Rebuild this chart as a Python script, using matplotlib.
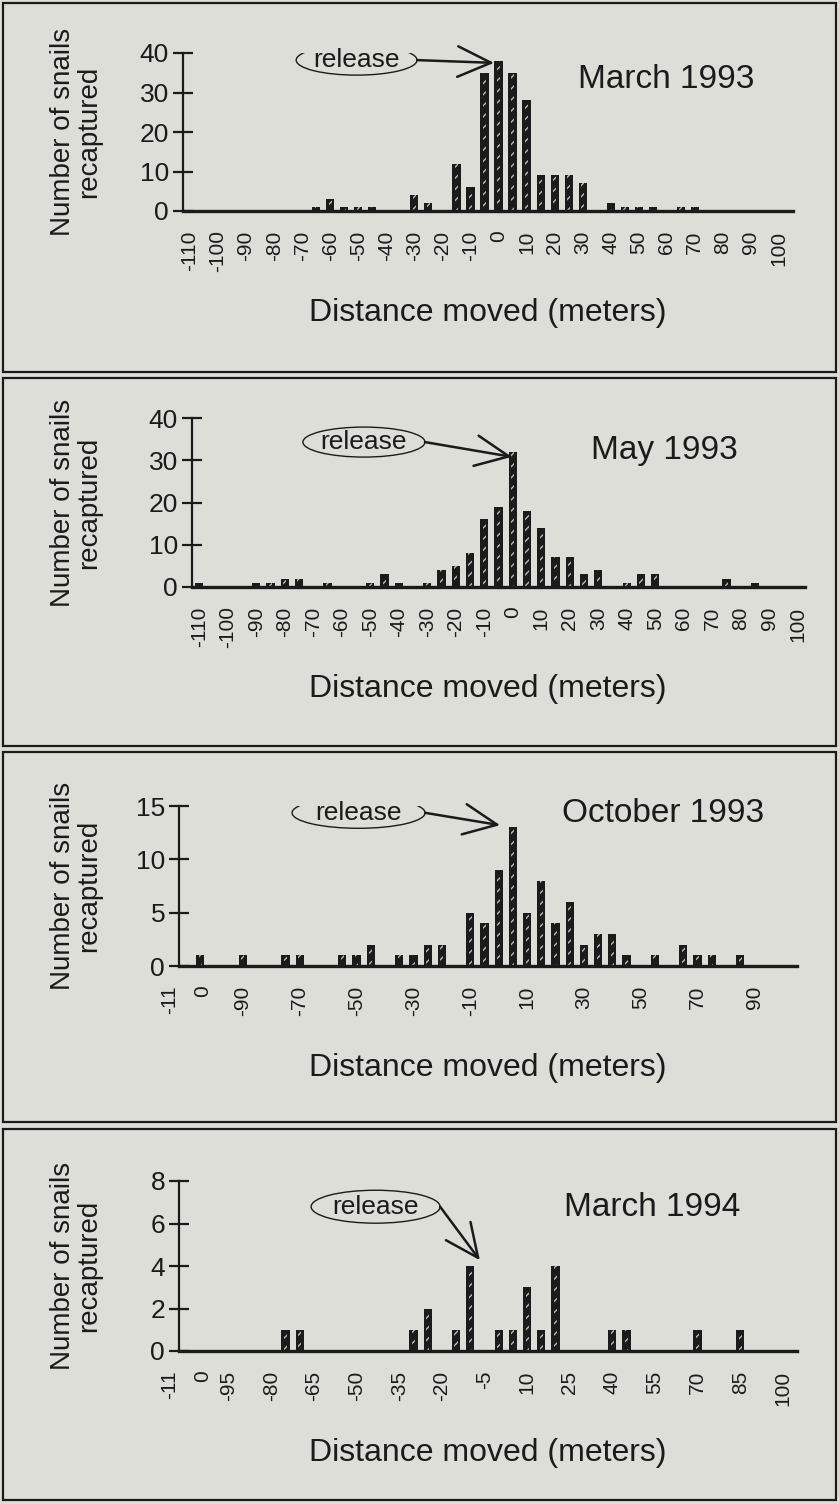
import matplotlib
matplotlib.use('Agg')
import matplotlib.pyplot as plt
from matplotlib.patches import Ellipse, Rectangle

plt.rcParams['font.family'] = ['Liberation Sans', 'DejaVu Sans']
plt.rcParams['hatch.linewidth'] = 1.0

# distance moved (m, 5 m classes) and number of snails recaptured
mar93_dist = [-65, -60, -55, -50, -45, -30, -25, -15, -10, -5, 0, 5, 10, 15, 20, 25, 30, 40, 45, 50, 55, 65, 70]
mar93_count = [1, 3, 1, 1, 1, 4, 2, 12, 6, 35, 38, 35, 28, 9, 9, 9, 7, 2, 1, 1, 1, 1, 1]

may93_dist = [-110, -90, -85, -80, -75, -65, -50, -45, -40, -30, -25, -20, -15, -10, -5, 0, 5, 10, 15, 20, 25, 30, 40, 45, 50, 75, 85]
may93_count = [1, 1, 1, 2, 2, 1, 1, 3, 1, 1, 4, 5, 8, 16, 19, 32, 18, 14, 7, 7, 3, 4, 1, 3, 3, 2, 1]

oct93_dist = [-105, -90, -75, -70, -55, -50, -45, -35, -30, -25, -20, -10, -5, 0, 5, 10, 15, 20, 25, 30, 35, 40, 45, 55, 65, 70, 75, 85]
oct93_count = [1, 1, 1, 1, 1, 1, 2, 1, 1, 2, 2, 5, 4, 9, 13, 5, 8, 4, 6, 2, 3, 3, 1, 1, 2, 1, 1, 1]

mar94_dist = [-75, -70, -30, -25, -15, -10, 0, 5, 10, 15, 20, 40, 45, 70, 85]
mar94_count = [1, 1, 1, 2, 1, 4, 1, 1, 3, 1, 4, 1, 1, 1, 1]

# x tick positions / labels for each survey
ticks_10 = [-110, -100, -90, -80, -70, -60, -50, -40, -30, -20, -10, 0, 10, 20, 30, 40, 50, 60, 70, 80, 90, 100]
labels_10 = ['-110', '-100', '-90', '-80', '-70', '-60', '-50', '-40', '-30', '-20', '-10', '0',
             '10', '20', '30', '40', '50', '60', '70', '80', '90', '100']
ticks_20 = [-110, -90, -70, -50, -30, -10, 10, 30, 50, 70, 90]
labels_20 = ['-11\n0', '-90', '-70', '-50', '-30', '-10', '10', '30', '50', '70', '90']
ticks_15 = [-110, -95, -80, -65, -50, -35, -20, -5, 10, 25, 40, 55, 70, 85, 100]
labels_15 = ['-11\n0', '-95', '-80', '-65', '-50', '-35', '-20', '-5', '10', '25', '40', '55', '70', '85', '100']

W, H = 839, 1504
BG = '#dcded7'
INK = '#1b1b1b'

fig = plt.figure(figsize=(W / 100, H / 100), dpi=100, facecolor=BG)


def px_rect(x0, y0, x1, y1):
    # pixel box (top-left origin) -> figure fraction rect
    return [x0 / W, 1 - y1 / H, (x1 - x0) / W, (y1 - y0) / H]


panels = [
    dict(dist=mar93_dist, count=mar93_count, box=(183, 53, 793, 211), frame=(3, 3, 836, 372),
         xlim=(-112.5, 105), ymax=40, yticks=[0, 10, 20, 30, 40], ticks=ticks_10, labels=labels_10,
         title='March 1993', title_xy=(59.7, 33.2),
         ell=(-50.6, 38.2, 43.1, 7.6), tip=(-1.6, 37.5)),
    dict(dist=may93_dist, count=may93_count, box=(192, 418, 805, 587), frame=(3, 378, 836, 746),
         xlim=(-112.5, 102.5), ymax=40, yticks=[0, 10, 20, 30, 40], ticks=ticks_10, labels=labels_10,
         title='May 1993', title_xy=(53.1, 32.4),
         ell=(-52.2, 34.3, 42.8, 7.1), tip=(-0.3, 30.8)),
    dict(dist=oct93_dist, count=oct93_count, box=(179, 806, 797, 966), frame=(3, 752, 836, 1122),
         xlim=(-112.5, 105), ymax=15, yticks=[0, 5, 10, 15], ticks=ticks_20, labels=labels_20,
         title='October 1993', title_xy=(57.8, 14.3),
         ell=(-49.3, 14.36, 46.8, 2.9), tip=(0.5, 13.2)),
    dict(dist=mar94_dist, count=mar94_count, box=(179, 1181, 797, 1351), frame=(3, 1129, 836, 1500),
         xlim=(-112.5, 105), ymax=8, yticks=[0, 2, 4, 6, 8], ticks=ticks_15, labels=labels_15,
         title='March 1994', title_xy=(54.0, 6.76),
         ell=(-43.3, 6.79, 45.4, 1.55), tip=(-6.6, 4.27)),
]

for p in panels:
    x0, y0, x1, y1 = p['box']
    ax = fig.add_axes(px_rect(x0, y0, x1, y1))
    ax.set_facecolor('none')

    # dark bars with a light dashed core
    ax.bar(p['dist'], p['count'], width=2.9, color=INK, linewidth=0)
    ax.bar(p['dist'], p['count'], width=1.1, fill=False, hatch='///', edgecolor='#b9bbb4', linewidth=0)

    ax.set_xlim(*p['xlim'])
    ax.set_ylim(0, p['ymax'])
    ax.set_yticks(p['yticks'])
    ax.set_xticks(p['ticks'])
    ax.set_xticklabels(p['labels'])

    for side in ('top', 'right'):
        ax.spines[side].set_visible(False)
    ax.spines['left'].set_linewidth(1.6)
    ax.spines['bottom'].set_linewidth(2.4)
    ax.spines['left'].set_color(INK)
    ax.spines['bottom'].set_color(INK)

    ax.tick_params(axis='y', direction='inout', length=14, width=1.6, color=INK,
                   labelsize=19, pad=3, labelcolor=INK)
    ax.tick_params(axis='x', length=0, labelsize=15, pad=14, labelrotation=90, labelcolor=INK)
    for lab in ax.get_xticklabels():
        if '\n' in lab.get_text():
            lab.set_linespacing(1.9)
            lab.set_multialignment('right')

    hpx = y1 - y0
    wpx = x1 - x0
    ax.set_xlabel('Distance moved (meters)', fontsize=23, color=INK)
    ax.xaxis.label.set_va('center')
    ax.xaxis.set_label_coords((488 - x0) / wpx, -102 / hpx)
    ax.set_ylabel('Number of snails\nrecaptured', fontsize=20, color=INK, linespacing=1.05)
    ax.yaxis.label.set_va('center')
    ax.yaxis.set_label_coords((76 - x0) / wpx, 0.5)

    ax.text(p['title_xy'][0], p['title_xy'][1], p['title'], fontsize=24, color=INK,
            ha='center', va='center')

    cx, cy, ew, eh = p['ell']
    ax.add_patch(Ellipse((cx, cy), ew, eh, fill=False, edgecolor=INK, linewidth=1.0))
    ax.text(cx, cy, 'release', fontsize=19, color=INK, ha='center', va='center')
    ax.annotate('', xy=p['tip'], xytext=(cx + ew / 2, cy),
                arrowprops=dict(arrowstyle='->,head_length=2.4,head_width=1.1', mutation_scale=10,
                                lw=1.8, color=INK, shrinkA=0, shrinkB=0))

    # box around each survey panel
    fx0, fy0, fx1, fy1 = p['frame']
    fig.add_artist(Rectangle((fx0 / W, 1 - fy1 / H), (fx1 - fx0) / W, (fy1 - fy0) / H,
                             transform=fig.transFigure, fill=False, edgecolor=INK, linewidth=1.6))

fig.savefig('out.png', dpi=100, facecolor=BG)
